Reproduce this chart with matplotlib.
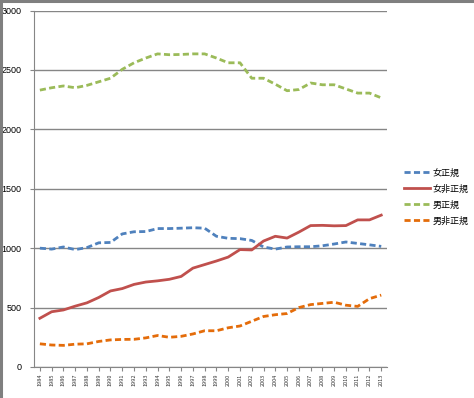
import matplotlib
matplotlib.use("Agg")
import matplotlib.pyplot as plt
from matplotlib.lines import Line2D

years = [str(y) for y in range(1984, 2014)]

women_regular = [1000, 992, 1010, 988, 1005, 1045, 1048, 1120, 1138, 1140,
                 1165, 1165, 1168, 1172, 1168, 1100, 1083, 1080, 1065, 1010,
                 992, 1010, 1012, 1012, 1020, 1035, 1052, 1040, 1028, 1015]
women_nonregular = [410, 465, 480, 512, 540, 585, 640, 660, 695, 715,
                    725, 738, 762, 832, 862, 892, 925, 988, 985, 1060,
                    1100, 1085, 1135, 1190, 1192, 1188, 1190, 1238, 1238, 1278]
men_regular = [2330, 2350, 2365, 2350, 2370, 2400, 2430, 2505, 2560, 2600,
               2635, 2628, 2630, 2635, 2635, 2600, 2560, 2560, 2430, 2430,
               2380, 2325, 2335, 2390, 2375, 2375, 2340, 2305, 2305, 2265]
men_nonregular = [195, 185, 182, 192, 195, 215, 228, 232, 233, 245,
                  265, 250, 258, 278, 305, 305, 330, 345, 385, 425,
                  440, 450, 500, 525, 535, 545, 520, 510, 575, 605]

labels = ["女正規", "女非正規", "男正規", "男非正規"]
colors = ["#4F81BD", "#C0504D", "#9BBB59", "#E46C0A"]

plt.rcParams['font.family'] = ['Noto Sans CJK JP', 'DejaVu Sans']

fig = plt.figure(figsize=(4.74, 3.98), dpi=100)
ax = fig.add_axes([0.0717, 0.0779, 0.745, 0.8957])

x = list(range(len(years)))
series = [women_regular, women_nonregular, men_regular, men_nonregular]
styles = [(0, (2.2, 1.2)), '-', (0, (2.2, 1.2)), (0, (2.2, 1.2))]
for s, lab, c, ls in zip(series, labels, colors, styles):
    ax.plot(x, s, color=c, linestyle=ls, linewidth=2.0, label=lab)

ax.set_xlim(-0.5, len(years) - 0.5)
ax.set_ylim(0, 3000)
ax.set_yticks(range(0, 3001, 500))
ax.set_yticklabels([str(v) for v in range(0, 3001, 500)],
                   fontfamily='Liberation Sans', fontsize=6.5)
ax.yaxis.grid(True, color="#868686", linewidth=1.0)
ax.set_axisbelow(True)
ax.set_xticks(x)
ax.set_xticklabels(years, rotation=90, fontsize=4, color="#333333")
ax.tick_params(axis='y', length=3, color="#868686", pad=6)
ax.tick_params(axis='x', length=3, color="#868686", pad=2)
for side in ["top", "right"]:
    ax.spines[side].set_visible(False)
for side in ["left", "bottom"]:
    ax.spines[side].set_color("#868686")

leg = ax.legend(loc='center left', bbox_to_anchor=(1.025, 0.477), frameon=False,
                fontsize=6.5, handlelength=2.9, handletextpad=0.3, labelspacing=0.75)

fig.add_artist(Line2D([0.003, 0.003], [0, 1], transform=fig.transFigure,
                      color="#7f7f7f", linewidth=2.2))
fig.add_artist(Line2D([0, 0.996], [0.997, 0.997], transform=fig.transFigure,
                      color="#7f7f7f", linewidth=2.2))

fig.savefig("out.png", dpi=100)
